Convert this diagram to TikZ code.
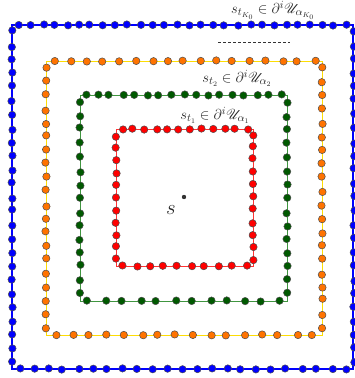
\documentclass[tikz,border=0pt]{standalone}
\usepackage{mathrsfs}
\begin{document}
\begin{tikzpicture}[x=1pt,y=-1pt,
  bdot/.style={fill=blue,draw=black!70,line width=0.5pt},
  odot/.style={fill=orange!90!red,draw=black!70,line width=0.5pt},
  gdot/.style={fill=green!35!black,draw=black!70,line width=0.5pt},
  rdot/.style={fill=red,draw=black!70,line width=0.5pt},
  lbl/.style={text=black!85,inner sep=0pt,font=\fontsize{15}{17}\selectfont}]
\useasboundingbox (0,0) rectangle (355,378);
\fill[white] (0,0) rectangle (355,378);
\pgfmathsetseed{4711}
% side: x0 y0 x1 y1 n style
\newcommand\dotside[6]{%
  \foreach \k in {1,...,#5}{%
    \pgfmathsetmacro\tpar{(\k-0.5)/#5+0.12*(rand)/#5}%
    \pgfmathsetmacro\xx{#1+\tpar*(#3-#1)+0.6*rand}%
    \pgfmathsetmacro\yy{#2+\tpar*(#4-#2)+0.6*rand}%
    \filldraw[#6] (\xx,\yy) circle (3.7pt);
  }}
% squares
\draw[blue,line width=1.2pt] (12,25) rectangle (353,369);
\draw[yellow!80!orange,line width=0.9pt] (46,61) rectangle (322,335);
\draw[green!45!black!75!white,line width=0.9pt] (80,95) rectangle (287,301);
\draw[red!80!white,line width=0.9pt] (116,129) rectangle (253,266);
% blue dots
\dotside{12}{25}{353}{25}{28}{bdot}
\dotside{354}{25}{354}{369}{25}{bdot}
\dotside{12}{369}{353}{369}{23}{bdot}
\dotside{12}{25}{12}{369}{25}{bdot}
% orange dots
\dotside{46}{61}{322}{61}{17}{odot}
\dotside{322}{61}{322}{335}{20}{odot}
\dotside{46}{335}{322}{335}{16}{odot}
\dotside{46}{61}{46}{335}{20}{odot}
% green dots
\dotside{80}{95}{287}{95}{17}{gdot}
\dotside{287}{95}{287}{301}{15}{gdot}
\dotside{80}{301}{287}{301}{12}{gdot}
\dotside{80}{95}{80}{301}{15}{gdot}
% red dots
\dotside{116}{129}{253}{129}{12}{rdot}
\dotside{253}{129}{253}{266}{11}{rdot}
\dotside{116}{266}{253}{266}{10}{rdot}
\dotside{116}{129}{116}{266}{11}{rdot}
% labels
\node[lbl] (lK) at (273,10) {$s_{t_{K_0}}\in\partial^i\mathscr{U}_{\alpha_{K_0}}$};
\node[lbl] (l2) at (237,78) {$s_{t_2}\in\partial^i\mathscr{U}_{\alpha_2}$};
\node[lbl] (l1) at (215,115) {$s_{t_1}\in\partial^i\mathscr{U}_{\alpha_1}$};
\coordinate (da) at (218,42);
\coordinate (db) at (290,42);
\draw[black!80,line width=0.7pt,dash pattern=on 3pt off 2pt] (da) -- (db);
\fill[black!80] (184,197) circle (2.2pt);
\node[text=black!85,inner sep=0pt,font=\fontsize{22}{24}\selectfont] (s) at (171,210) {$s$};
\end{tikzpicture}
\end{document}
